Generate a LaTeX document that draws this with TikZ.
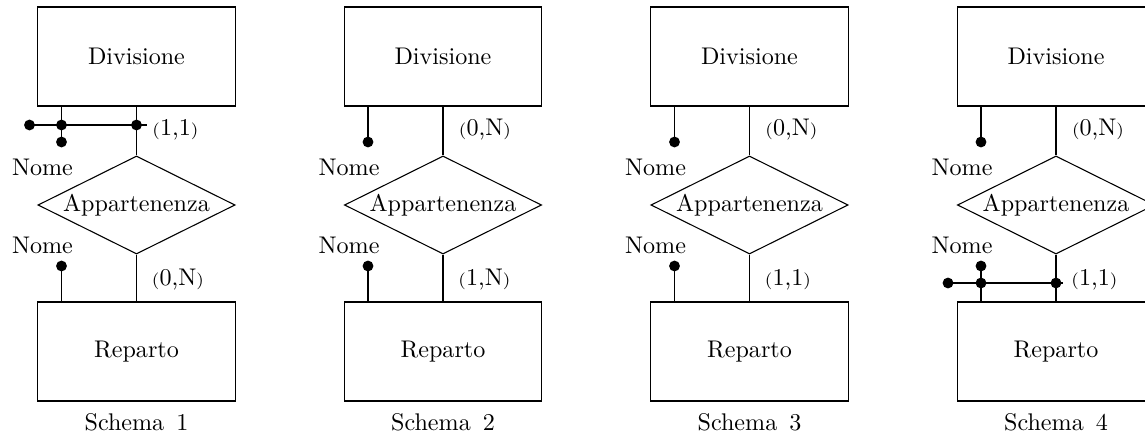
\documentclass[tikz,border=0pt]{standalone}
\usetikzlibrary{shapes.geometric}
\tikzset{
  ent/.style={draw, rectangle, minimum width=81.8pt, minimum height=41.1pt, inner sep=0pt, line width=0.45pt},
  rel/.style={draw, diamond, aspect=2, minimum width=81.8pt, minimum height=40.7pt, inner sep=0pt, line width=0.45pt},
  link/.style={line width=0.45pt},
  dotnode/.style={circle, fill=black, inner sep=0pt, minimum size=4.5pt},
  card/.style={anchor=west, inner sep=0pt},
  lbl/.style={inner sep=0pt},
}
\newcommand\crd[2]{{\scriptsize(}#1,#2{\scriptsize)}}
\newcommand\erschema[4]{%
  \node[lbl] (cap#1) at (#2,422) {Schema\hspace{5pt}#1};
  \node[ent] (div#1) at (#2,56.5) {Divisione};
  \node[rel] (rel#1) at (#2,205) {Appartenenza};
  \node[ent] (rep#1) at (#2,351.5) {Reparto};
  \draw[link] (div#1) -- (rel#1);
  \draw[link] (rel#1) -- (rep#1);
  \node[dotnode] (ua#1) at ({#2-75},142) {};
  \node[dotnode] (la#1) at ({#2-75},266) {};
  \draw[link] (div#1.south -| ua#1) -- (ua#1.center);
  \draw[link] (la#1.center) -- (la#1 |- rep#1.north);
  \node[lbl] (un#1) at ({#2-94},167) {Nome};
  \node[lbl] (ln#1) at ({#2-94},245) {Nome};
  \node[card] (uc#1) at ({#2+15.5},130) {#3};
  \node[card] (lc#1) at ({#2+15},280) {#4};
}
\begin{document}
\begin{tikzpicture}[x=0.415pt, y=-0.415pt]
\useasboundingbox (0,0) rectangle (1145,439);
\erschema{1}{136.5}{\crd{1}{1}}{\crd{0}{N}}
\erschema{2}{443}{\crd{0}{N}}{\crd{1}{N}}
\erschema{3}{749.5}{\crd{0}{N}}{\crd{1}{1}}
\erschema{4}{1056}{\crd{0}{N}}{\crd{1}{1}}
% identifier bar, schema 1
\node[dotnode] (ba1) at (29.5,125) {};
\node[dotnode] (bb1) at (61.5,125) {};
\node[dotnode] (bc1) at (136.5,125) {};
\coordinate (be1) at (147,125);
\draw[link] (ba1.center) -- (be1);
% identifier bar, schema 4
\node[dotnode] (ba4) at (948,283) {};
\node[dotnode] (bb4) at (981,283) {};
\node[dotnode] (bc4) at (1056,283) {};
\coordinate (be4) at (1063,283);
\draw[link] (ba4.center) -- (be4);
\end{tikzpicture}
\end{document}
